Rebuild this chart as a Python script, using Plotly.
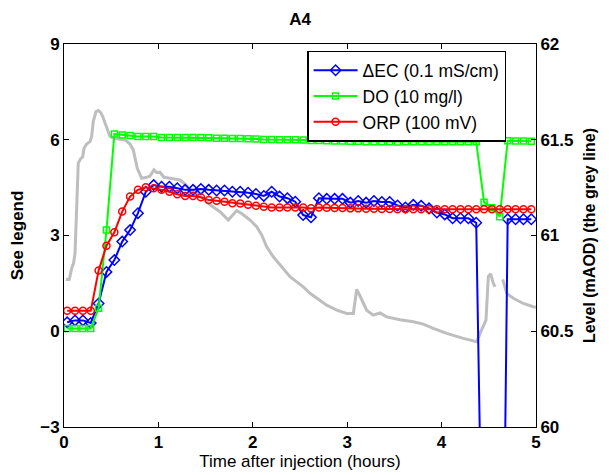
import plotly.graph_objects as go

# sample times (minutes after injection), every 5 min
minutes = [2, 7, 12, 17, 22, 27, 32, 37, 42, 47, 52, 57,
           62, 67, 72, 77, 82, 87, 92, 97, 102, 107, 112, 117,
           122, 127, 132, 137, 142, 147, 152, 157, 162, 167, 172, 177,
           182, 187, 192, 197, 202, 207, 212, 217, 222, 227, 232, 237,
           242, 247, 252, 257, 262, 267, 272, 277, 282, 287, 292, 297]

# Delta EC (0.1 mS/cm)
ec = [0.28, 0.34, 0.34, 0.26, 0.87, 1.86, 2.23, 2.81, 3.17, 3.70, 4.37, 4.58,
      4.53, 4.53, 4.48, 4.43, 4.43, 4.46, 4.43, 4.41, 4.41, 4.37, 4.37, 4.34,
      4.30, 4.24, 4.37, 4.22, 4.17, 4.06, 3.64, 3.57, 4.17, 4.15, 4.15, 4.15,
      4.03, 4.08, 4.03, 4.08, 4.05, 4.05, 3.94, 3.88, 3.96, 3.93, 3.85, 3.72,
      3.66, 3.54, 3.54, 3.54, 3.40, -11.0, -14.0, -18.0, 3.51, 3.51, 3.51, 3.51]

# DO (10 mg/l)
do = [0.09, 0.09, 0.09, 0.09, 0.72, 3.17, 6.18, 6.15, 6.13, 6.10, 6.10, 6.10,
      6.07, 6.07, 6.07, 6.07, 6.07, 6.07, 6.06, 6.05, 6.05, 6.04, 6.04, 6.03,
      6.02, 6.01, 6.01, 6.00, 6.00, 6.00, 5.99, 5.98, 5.98, 5.97, 5.96, 5.96,
      5.95, 5.95, 5.94, 5.94, 5.94, 5.94, 5.93, 5.94, 5.94, 5.94, 5.94, 5.94,
      5.94, 5.94, 5.94, 5.94, 5.94, 4.04, 3.87, 3.59, 5.97, 5.96, 5.96, 5.95]

# ORP (100 mV)
orp = [0.64, 0.64, 0.64, 0.64, 1.90, 2.68, 3.10, 3.75, 4.22, 4.43, 4.51, 4.48,
       4.43, 4.37, 4.29, 4.24, 4.24, 4.20, 4.11, 4.09, 4.06, 4.01, 4.00, 3.96,
       3.93, 3.90, 3.88, 3.88, 3.88, 3.88, 3.88, 3.85, 3.88, 3.87, 3.86, 3.86,
       3.85, 3.85, 3.84, 3.84, 3.83, 3.83, 3.82, 3.82, 3.82, 3.82, 3.82, 3.82,
       3.82, 3.82, 3.82, 3.82, 3.82, 3.82, 3.82, 3.82, 3.82, 3.82, 3.82, 3.82]

# water level (mAOD), grey line
level_t = [0.021, 0.056, 0.082, 0.101, 0.117, 0.132, 0.151, 0.175, 0.198, 0.212,
           0.240, 0.275, 0.293, 0.310, 0.339, 0.363, 0.389, 0.410, 0.452, 0.487,
           0.530, 0.575, 0.646, 0.699, 0.734, 0.776, 0.823, 0.876, 0.911, 0.953,
           0.982, 1.017, 1.059, 1.123, 1.176, 1.229, 1.282, 1.335, 1.406, 1.476,
           1.547, 1.653, 1.740, 1.829, 1.882, 1.970, 2.041, 2.094, 2.147, 2.217,
           2.306, 2.394, 2.465, 2.535, 2.606, 2.677, 2.783, 2.889, 2.995, 3.065,
           3.101, 3.136, 3.206, 3.276, 3.347, 3.418, 3.559, 3.700, 3.806, 3.912,
           4.054, 4.230, 4.372, 4.407, 4.470, 4.495, 4.520, 4.548, 4.566, 4.600,
           4.647, 4.690, 4.760, 4.866, 4.972, 5.000]
level = [60.77, 60.77, 60.83, 60.855, 60.907, 61.15, 61.378, 61.40, 61.41, 61.456,
         61.478, 61.49, 61.517, 61.595, 61.647, 61.653, 61.642, 61.621, 61.569, 61.517,
         61.508, 61.503, 61.499, 61.478, 61.447, 61.351, 61.299, 61.304, 61.311, 61.343,
         61.329, 61.33, 61.304, 61.299, 61.295, 61.29, 61.269, 61.238, 61.221, 61.189,
         61.16, 61.124, 61.081, 61.13, 61.115, 61.081, 61.046, 61.003, 60.941, 60.889,
         60.837, 60.785, 60.758, 60.732, 60.698, 60.672, 60.636, 60.61, 60.593, 60.593,
         60.719, 60.684, 60.61, 60.584, 60.596, 60.575, 60.56, 60.55, 60.537, 60.515,
         60.489, 60.463, 60.445, 60.489, 60.558, 60.785, 60.80, 60.75, 60.732, None,
         60.771, 60.698, 60.672, 60.645, 60.628, 60.625]

hours = [m / 60 for m in minutes]

FONT = "Liberation Sans"

fig = go.Figure()

# grey level line on the primary (right-hand) axis so it sits underneath
fig.add_trace(go.Scatter(
    x=level_t, y=level, mode='lines', yaxis='y',
    line=dict(color='rgb(190,190,190)', width=3),
    showlegend=False, connectgaps=False
))

fig.add_trace(go.Scatter(
    x=hours, y=ec, mode='lines+markers', yaxis='y2',
    name='ΔEC (0.1 mS/cm)',
    line=dict(color='#0000FF', width=2),
    marker=dict(symbol='diamond-open', size=8, color='#0000FF', line=dict(width=1.5))
))
fig.add_trace(go.Scatter(
    x=hours, y=do, mode='lines+markers', yaxis='y2',
    name='DO (10 mg/l)',
    line=dict(color='#00FF00', width=2),
    marker=dict(symbol='square-open', size=6, color='#00FF00', line=dict(width=1.5))
))
fig.add_trace(go.Scatter(
    x=hours, y=orp, mode='lines+markers', yaxis='y2',
    name='ORP (100 mV)',
    line=dict(color='#FF0000', width=2),
    marker=dict(symbol='circle-open', size=7, color='#FF0000', line=dict(width=1.5))
))

tickfont = dict(family=FONT, size=17, color='black', weight='bold')

fig.update_layout(
    width=609, height=475,
    margin=dict(l=64, r=73, t=44, b=48),
    paper_bgcolor='white', plot_bgcolor='white',
    font=dict(family=FONT, color='black'),
    title=dict(text='A4', x=0.5, xref='paper', xanchor='center',
               y=1 - 19 / 475, yanchor='middle',
               font=dict(family=FONT, size=17, weight='bold')),
    xaxis=dict(
        range=[0, 5], tickvals=[0, 1, 2, 3, 4, 5], automargin=False,
        ticks='inside', ticklen=5, tickcolor='black',
        showline=True, linecolor='black', linewidth=1, mirror='ticks',
        showgrid=False, zeroline=False, tickfont=tickfont,
        title=dict(text='Time after injection (hours)', standoff=0,
                   font=dict(family=FONT, size=17)),
    ),
    yaxis=dict(
        side='right', range=[60, 62], tickvals=[60, 60.5, 61, 61.5, 62],
        automargin=False,
        ticks='inside', ticklen=5, tickcolor='black',
        showline=True, linecolor='black', linewidth=1,
        showgrid=False, zeroline=False, tickfont=tickfont,
        title=dict(text='Level (mAOD) (the grey line)', standoff=11,
                   font=dict(family=FONT, size=16, weight='bold')),
    ),
    yaxis2=dict(
        side='left', overlaying='y', range=[-3, 9], tickvals=[-3, 0, 3, 6, 9],
        automargin=False,
        ticks='inside', ticklen=5, tickcolor='black',
        showline=True, linecolor='black', linewidth=1,
        showgrid=False, zeroline=False, tickfont=tickfont,
        title=dict(text='See legend', standoff=12,
                   font=dict(family=FONT, size=17, weight='bold')),
    ),
    legend=dict(
        x=0.515, y=0.982, xanchor='left', yanchor='top',
        bgcolor='white', bordercolor='black', borderwidth=1.5,
        font=dict(family=FONT, size=17.5, color='black'),
        itemwidth=44, tracegroupgap=0,
    ),
)

# drop the default page margin so the figure sits at the window's corner
fig.write_html("out.html", config={'displayModeBar': False},
               post_script="document.body.style.margin='0';")
